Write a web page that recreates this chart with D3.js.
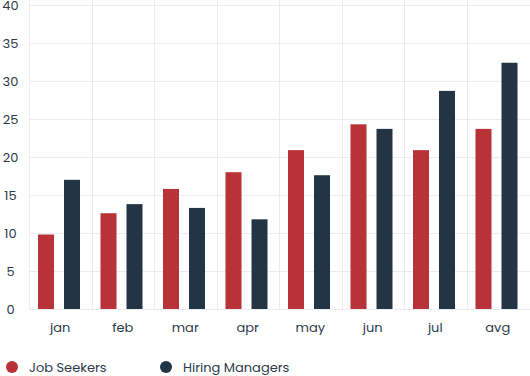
<!DOCTYPE html>
<html>
<head>
<meta charset="utf-8">
<script src="https://cdn.jsdelivr.net/npm/d3@7"></script>
<style>
  body { margin: 0; background: #fff; }
  text { font-family: "Poppins", "Inter", sans-serif; fill: #2d3b4b; }
</style>
</head>
<body>
<svg id="chart" width="530" height="376"></svg>
<script>
const months = ["jan", "feb", "mar", "apr", "may", "jun", "jul", "avg"];
const jobSeekers = [9.8, 12.6, 15.8, 18.0, 20.9, 24.3, 20.9, 23.7];
const hiringManagers = [17.0, 13.8, 13.3, 11.8, 17.6, 23.7, 28.7, 32.4];
const yTicks = [0, 5, 10, 15, 20, 25, 30, 35, 40];
const seriesNames = ["Job Seekers", "Hiring Managers"];
const colors = ["#b83238", "#233545"];

const svg = d3.select("#chart");
const plotLeft = 29, plotRight = 529, plotTop = 5, plotBottom = 309;

const x = d3.scaleBand().domain(months).range([plotLeft, plotRight]);
const y = d3.scaleLinear().domain([0, 40]).range([plotBottom, plotTop]);

// grid
const grid = svg.append("g").attr("stroke", "#e9ecf0").attr("stroke-width", 1);
grid.selectAll(".h").data(yTicks).join("line")
  .attr("x1", plotLeft).attr("x2", 530)
  .attr("y1", d => Math.round(y(d)) + 0.5).attr("y2", d => Math.round(y(d)) + 0.5);
grid.selectAll(".v").data(months).join("line")
  .attr("x1", d => Math.round(x(d)) + 0.5).attr("x2", d => Math.round(x(d)) + 0.5)
  .attr("y1", 0).attr("y2", plotBottom);

// y labels
svg.append("g").selectAll("text").data(yTicks).join("text")
  .attr("x", 10.5).attr("y", d => y(d)).attr("dy", "0.35em")
  .attr("text-anchor", "middle").attr("font-size", 13)
  .text(d => d);

// x labels
svg.append("g").selectAll("text").data(months).join("text")
  .attr("x", d => x(d) + x.bandwidth() / 2).attr("y", 327).attr("dy", "0.35em")
  .attr("text-anchor", "middle").attr("font-size", 13)
  .text(d => d);

// bars
const barW = 16;
const rows = months.map((m, i) => ({m, vals: [jobSeekers[i], hiringManagers[i]]}));
const groups = svg.append("g").selectAll("g").data(rows).join("g");
groups.selectAll("rect").data(d => d.vals.map((v, k) => ({m: d.m, v, k}))).join("rect")
  .attr("x", d => x(d.m) + 9 + d.k * 26)
  .attr("width", barW)
  .attr("y", d => y(d.v))
  .attr("height", d => plotBottom - y(d.v))
  .attr("fill", d => colors[d.k]);

// legend
const legendX = [12, 166];
const legend = svg.append("g").selectAll("g").data(seriesNames).join("g")
  .attr("transform", (d, i) => `translate(${legendX[i]},367)`);
legend.append("circle").attr("r", 6).attr("fill", (d, i) => colors[i]);
legend.append("text").attr("x", 17).attr("dy", "0.35em").attr("font-size", 13).text(d => d);
</script>
</body>
</html>
